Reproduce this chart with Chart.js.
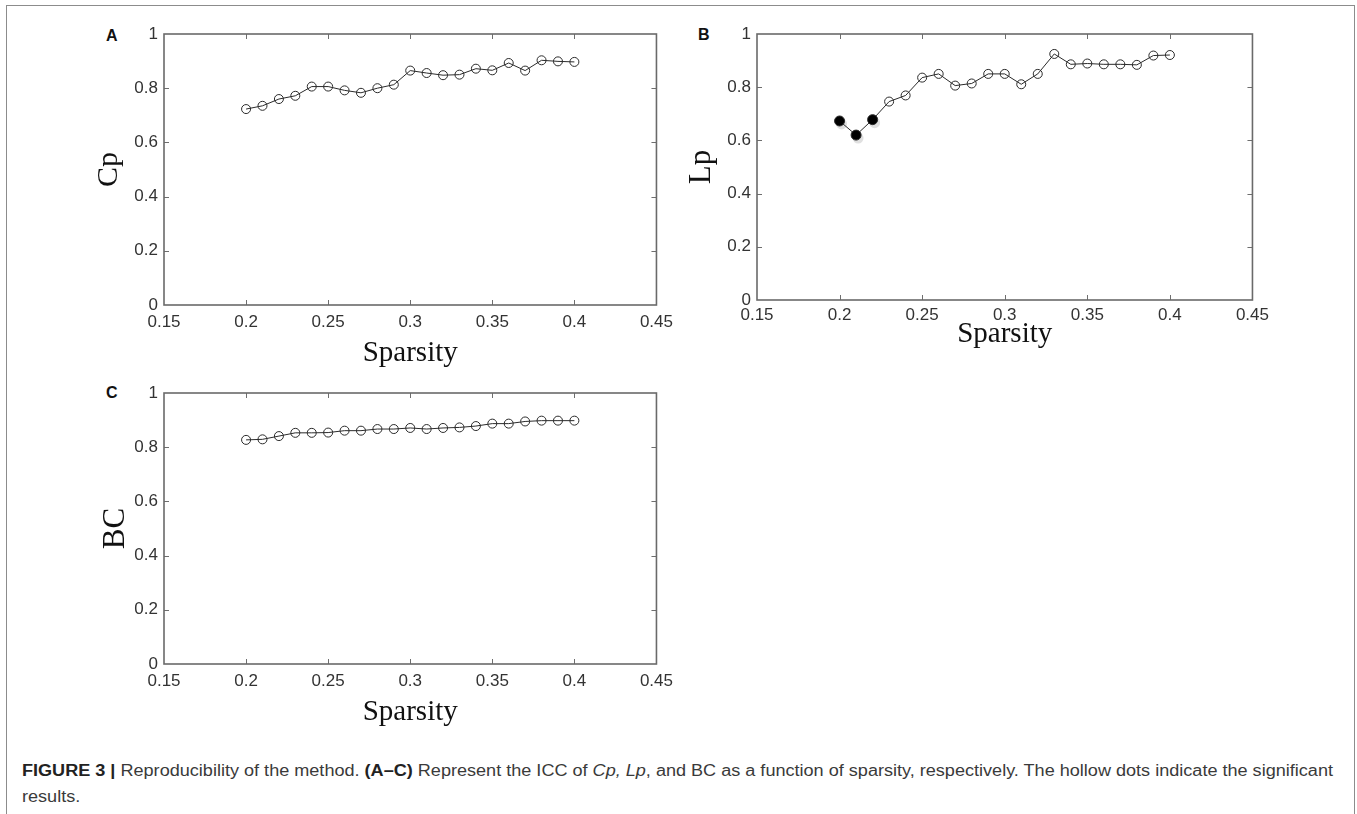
<!DOCTYPE html>
<html>
<head>
<meta charset="utf-8">
<script src="https://cdn.jsdelivr.net/npm/chart.js@4.4.1/dist/chart.umd.min.js"></script>
<style>
  html, body { margin: 0; padding: 0; background: #fff; }
  body { width: 1357px; height: 814px; position: relative; overflow: hidden; }
  canvas { position: absolute; }
  .frame { position: absolute; left: 6px; top: 5px; width: 1349px; height: 900px;
           border: 1.5px solid #8c8c8c; box-sizing: border-box; }
  .letter { position: absolute; font-family: "Liberation Sans", Arial, sans-serif;
            font-weight: bold; font-size: 16px; line-height: 16px; color: #111; }
  .cap { position: absolute; left: 22px; font-family: "Liberation Sans", Arial, sans-serif;
         font-size: 16px; line-height: 26px; color: #3a3a3a; white-space: nowrap;
         transform-origin: 0 0; }
  .cap b { color: #222; }
</style>
</head>
<body>
<div class="frame"></div>
<div class="letter" style="left:106px; top:28px;">A</div>
<div class="letter" style="left:698px; top:27px;">B</div>
<div class="letter" style="left:106px; top:385px;">C</div>
<canvas id="cA" width="600" height="357" style="left:80px; top:14px;"></canvas>
<canvas id="cB" width="594" height="338" style="left:680px; top:14px;"></canvas>
<canvas id="cC" width="600" height="357" style="left:80px; top:373px;"></canvas>
<div class="cap" id="cap" style="top:758px;">
  <div id="capLine1"><b>FIGURE 3 |</b> Reproducibility of the method. <b>(A–C)</b> Represent the ICC of <i>Cp, Lp</i>, and BC as a function of sparsity, respectively. The hollow dots indicate the significant</div>
  <div>results.</div>
</div>
<script>
// ---- data ----
const sparsity = [0.20, 0.21, 0.22, 0.23, 0.24, 0.25, 0.26, 0.27, 0.28, 0.29, 0.30,
                  0.31, 0.32, 0.33, 0.34, 0.35, 0.36, 0.37, 0.38, 0.39, 0.40];
const cpValues = [0.723, 0.735, 0.760, 0.772, 0.806, 0.806, 0.792, 0.783, 0.800, 0.813, 0.865,
                  0.856, 0.848, 0.850, 0.872, 0.866, 0.893, 0.865, 0.903, 0.899, 0.897];
const lpValues = [0.673, 0.620, 0.678, 0.746, 0.769, 0.836, 0.850, 0.806, 0.814, 0.850, 0.850,
                  0.811, 0.850, 0.925, 0.886, 0.889, 0.886, 0.886, 0.884, 0.919, 0.921];
const bcValues = [0.827, 0.829, 0.841, 0.853, 0.853, 0.854, 0.861, 0.861, 0.867, 0.867, 0.871,
                  0.867, 0.871, 0.873, 0.878, 0.887, 0.887, 0.895, 0.898, 0.898, 0.898];
// true = significant (hollow dot)
const cpSignificant = sparsity.map(() => true);
const lpSignificant = [false, false, false, true, true, true, true, true, true, true, true,
                       true, true, true, true, true, true, true, true, true, true];
const bcSignificant = sparsity.map(() => true);
const xTickValues = [0.15, 0.20, 0.25, 0.30, 0.35, 0.40, 0.45];
const xTickLabels = ['0.15', '0.2', '0.25', '0.3', '0.35', '0.4', '0.45'];
const yTickValues = [0, 0.2, 0.4, 0.6, 0.8, 1];
const yTickLabels = ['0', '0.2', '0.4', '0.6', '0.8', '1'];
const xTitle = 'Sparsity';

// ---- helpers ----
const boxTicks = {
  id: 'boxTicks',
  afterDraw(chart) {
    const {ctx, chartArea: a, scales: {x, y}} = chart;
    const L = 5;
    ctx.save();
    ctx.strokeStyle = '#6e6e6e';
    ctx.lineWidth = 1;
    ctx.beginPath();
    x.ticks.forEach(t => {
      const px = Math.round(x.getPixelForValue(t.value)) + 0.5;
      if (px <= a.left + 2 || px >= a.right - 2) return;
      ctx.moveTo(px, a.bottom); ctx.lineTo(px, a.bottom - L);
      ctx.moveTo(px, a.top); ctx.lineTo(px, a.top + L);
    });
    y.ticks.forEach(t => {
      const py = Math.round(y.getPixelForValue(t.value)) + 0.5;
      if (py <= a.top + 2 || py >= a.bottom - 2) return;
      ctx.moveTo(a.left, py); ctx.lineTo(a.left + L, py);
      ctx.moveTo(a.right, py); ctx.lineTo(a.right - L, py);
    });
    ctx.stroke();
    ctx.lineWidth = 1.6;
    ctx.strokeStyle = '#6a6a6a';
    ctx.strokeRect(a.left, a.top, a.right - a.left, a.bottom - a.top);
    ctx.restore();
  }
};

// soft grey shadow under the filled (non-significant) dots
const dotShadow = {
  id: 'dotShadow',
  beforeDatasetsDraw(chart) {
    const meta = chart.getDatasetMeta(0);
    const sig = chart.data.datasets[0].significant;
    const ctx = chart.ctx;
    ctx.save();
    ctx.fillStyle = 'rgba(0,0,0,0.12)';
    meta.data.forEach((p, i) => {
      if (sig[i]) return;
      ctx.beginPath();
      ctx.arc(p.x + 2, p.y + 3, 5.5, 0, Math.PI * 2);
      ctx.fill();
    });
    ctx.restore();
  }
};

function makeChart(id, values, significant, yTitle, cfg) {
  const pts = sparsity.map((s, i) => ({x: s, y: values[i]}));
  return new Chart(document.getElementById(id), {
    type: 'scatter',
    data: {
      datasets: [{
        data: pts,
        significant: significant,
        showLine: true,
        borderColor: '#2a2a2a',
        borderWidth: 1,
        pointBorderWidth: 1,
        pointBorderColor: '#2a2a2a',
        pointBackgroundColor: significant.map(s => s ? 'rgba(0,0,0,0)' : '#000'),
        pointRadius: significant.map(s => s ? 4.5 : 5),
      }]
    },
    options: {
      responsive: false,
      animation: false,
      devicePixelRatio: 1,
      plugins: { legend: { display: false }, tooltip: { enabled: false } },
      layout: { padding: { top: cfg.padTop, right: cfg.padRight, left: 0, bottom: 0 } },
      scales: {
        x: {
          type: 'linear', min: 0.15, max: 0.45,
          afterBuildTicks: s => { s.ticks = xTickValues.map(v => ({value: v})); },
          afterFit: s => { s.height = cfg.xHeight; },
          grid: { display: false, drawTicks: false },
          border: { display: false },
          ticks: {
            padding: cfg.xTickPad,
            color: '#333',
            font: { family: 'Liberation Sans', size: 17 },
            maxRotation: 0, autoSkip: false,
            callback: (v) => xTickLabels[xTickValues.findIndex(t => Math.abs(t - v) < 1e-9)]
          },
          title: {
            display: true, text: xTitle, color: '#111',
            font: { family: 'Liberation Serif', size: 29, lineHeight: 1.2 },
            padding: { top: 0, bottom: cfg.xTitlePad }
          }
        },
        y: {
          type: 'linear', min: 0, max: 1,
          afterBuildTicks: s => { s.ticks = yTickValues.map(v => ({value: v})); },
          afterFit: s => { s.width = cfg.yWidth; },
          grid: { display: false, drawTicks: false },
          border: { display: false },
          ticks: {
            padding: 6,
            color: '#333',
            font: { family: 'Liberation Sans', size: 17 },
            callback: (v) => yTickLabels[yTickValues.findIndex(t => Math.abs(t - v) < 1e-9)]
          },
          title: {
            display: true, text: yTitle, color: '#111',
            font: { family: 'Liberation Serif', size: cfg.yTitleSize, lineHeight: 1.2 },
            padding: { top: cfg.yTitlePad, bottom: 0 }
          }
        }
      }
    },
    plugins: [dotShadow, boxTicks]
  });
}

makeChart('cA', cpValues, cpSignificant, 'Cp',
  { padTop: 20, padRight: 18, xHeight: 66, yWidth: 84, xTickPad: 7, xTitlePad: 0, yTitleSize: 30, yTitlePad: 11 });
makeChart('cB', lpValues, lpSignificant, 'Lp',
  { padTop: 20, padRight: 21, xHeight: 52, yWidth: 77, xTickPad: 5, xTitlePad: 0, yTitleSize: 31, yTitlePad: 3 });
makeChart('cC', bcValues, bcSignificant, 'BC',
  { padTop: 20, padRight: 17, xHeight: 66, yWidth: 84, xTickPad: 7, xTitlePad: 0, yTitleSize: 31, yTitlePad: 17 });

// fit caption line width to reference
(function () {
  const cap = document.getElementById('cap');
  const l1 = document.getElementById('capLine1');
  const w = l1.getBoundingClientRect().width;
  cap.style.transform = 'scaleX(' + (1311 / w) + ')';
})();
</script>
</body>
</html>
